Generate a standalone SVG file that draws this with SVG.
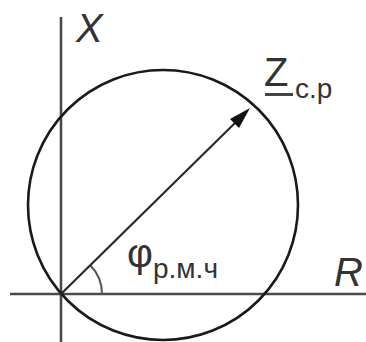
<svg xmlns="http://www.w3.org/2000/svg" width="366" height="342" viewBox="0 0 366 342">
<style>
.axis{stroke:#4a4a4a;stroke-width:2.6;fill:none}
.circ{stroke:#1a1a1a;stroke-width:2.6;fill:none}
.vec{stroke:#2a2a2a;stroke-width:2.2;fill:none}
.ang{stroke:#555;stroke-width:2;fill:none}
.lbl{font-family:"Liberation Sans",Arial,sans-serif;fill:#333}
</style>
<defs>
<marker id="ah" markerWidth="10" markerHeight="8" refX="9" refY="4" orient="auto" markerUnits="userSpaceOnUse" viewBox="0 0 10 8">
<path d="M0,0 L10,4 L0,8 z" fill="#111"/>
</marker>
</defs>
<rect width="366" height="342" fill="#fff"/>
<g id="connectors">
<line class="axis" x1="61" y1="17" x2="61" y2="342"/>
<line class="axis" x1="10" y1="294" x2="366" y2="294"/>
<path class="ang" d="M90,265 A41,41 0 0 1 102,294"/>
</g>
<g id="circle"><circle class="circ" cx="163" cy="205" r="135"/></g>
<g id="vector">
<line class="vec" x1="61" y1="294" x2="236" y2="122"/>
<path d="M250,108 L239,128 L230,119 Z" fill="#111"/>
</g>
<g id="label-x"><text class="lbl" x="76" y="42" font-size="40" font-style="italic">X</text></g>
<g id="label-r"><text class="lbl" x="334" y="286" font-size="40" font-style="italic">R</text></g>
<g id="label-z">
<text class="lbl" x="264" y="86" font-size="40">Z</text>
<rect x="265" y="93" width="28" height="3" fill="#444"/>
<text class="lbl" x="295" y="98" font-size="28">с.р</text>
</g>
<g id="label-phi">
<text class="lbl" x="127" y="267" font-size="40">φ</text>
<text class="lbl" x="153" y="278" font-size="28">р.м.ч</text>
</g>
</svg>
